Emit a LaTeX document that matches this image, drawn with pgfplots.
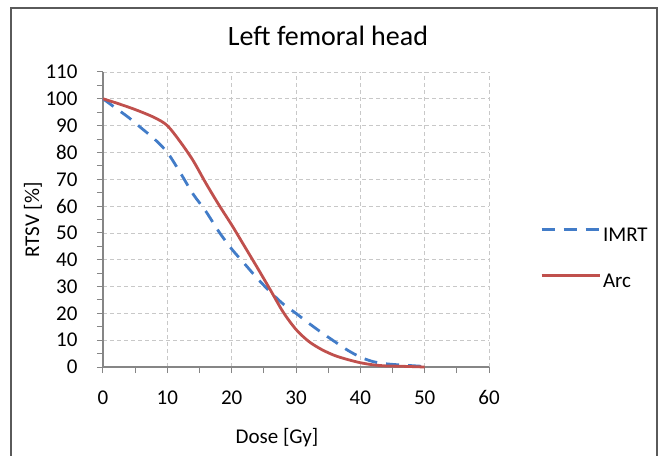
\documentclass[border=0pt]{standalone}
\usepackage{pgfplots}
\pgfplotsset{compat=1.18}
\usepackage{fontspec}
\setmainfont{Carlito}
\definecolor{imrt}{RGB}{66,124,200}
\definecolor{arc}{RGB}{192,80,77}
\definecolor{axgray}{RGB}{134,134,134}
\definecolor{gridgray}{RGB}{200,200,200}
\definecolor{framegray}{RGB}{90,90,90}
\begin{document}
\begin{tikzpicture}
\begin{axis}[
  at={(0pt,0pt)}, anchor=south west,
  scale only axis, width=386pt, height=295pt,
  xmin=0, xmax=60, ymin=0, ymax=110,
  xtick={0,10,...,60}, ytick={0,10,...,110},
  minor x tick num=1, minor y tick num=1,
  axis lines=left, axis line style={-, axgray, line width=1.3pt},
  tick align=outside, major tick length=6pt, minor tick length=6pt,
  every tick/.style={axgray, line width=1pt},
  grid=major, major grid style={gridgray, dash pattern=on 4pt off 3pt, line width=0.8pt},
  /pgf/number format/assume math mode=true,
  tick label style={font=\fontsize{21}{21}\selectfont},
  xticklabel style={yshift=-14pt},
  yticklabel style={xshift=-16pt},
  clip=false,
  legend style={at={(1.1244,0.3644)}, anchor=west, draw=none, fill=none,
    font=\fontsize{21}{21}\selectfont, row sep=28pt,
    nodes={inner sep=0pt, text height=14pt, text depth=4pt},
    cells={anchor=west}},
  legend image code/.code={\draw[#1] (0pt,7pt) -- (58pt,7pt);},
]
\addplot[imrt, line width=2.8pt, dash pattern=on 13pt off 9pt, smooth] coordinates {
(0,100)(2,96.5)(4,93)(6,89)(8,85)(10,80)(12,72.5)(14,64.5)(16,58)(18,50.5)(20,44)(22,38.5)(24,33)(26,28)(28,23.5)(30,20)(32,16.3)(34,12.8)(36,9.5)(38,6.3)(40,3.7)(42,2)(44,1.2)(46,0.8)(48,0.5)(50,0.2)};
\addlegendentry{\hspace{2pt}IMRT}
\addplot[arc, line width=2.8pt, smooth] coordinates {
(0,100)(2,98.5)(5,96)(8,93)(10,90)(12,84)(14,77)(16,68.5)(18,60.5)(20,53)(22,45)(24,37)(26,28.8)(28,20.5)(30,14)(32,9.5)(34,6.5)(36,4.3)(38,2.8)(40,1.6)(42,0.8)(44,0.4)(46,0.3)(50,0)};
\addlegendentry{\hspace{2pt}Arc}
\end{axis}
\node[anchor=base, font=\fontsize{28}{28}\selectfont] at (225pt,321pt) {Left femoral head};
\node[rotate=90, font=\fontsize{21}{21}\selectfont] at (-70pt,147pt) {RTSV [\%]};
\node[anchor=base, font=\fontsize{21}{21}\selectfont] at (174pt,-76pt) {Dose [Gy]};
\draw[framegray, line width=1.5pt] (-92pt,-90pt) -- (-92pt,359pt) -- (554pt,359pt) -- (554pt,-90pt);
\pgfresetboundingbox
\path (-103pt,-88pt) rectangle (557pt,367pt);
\end{tikzpicture}
\end{document}
